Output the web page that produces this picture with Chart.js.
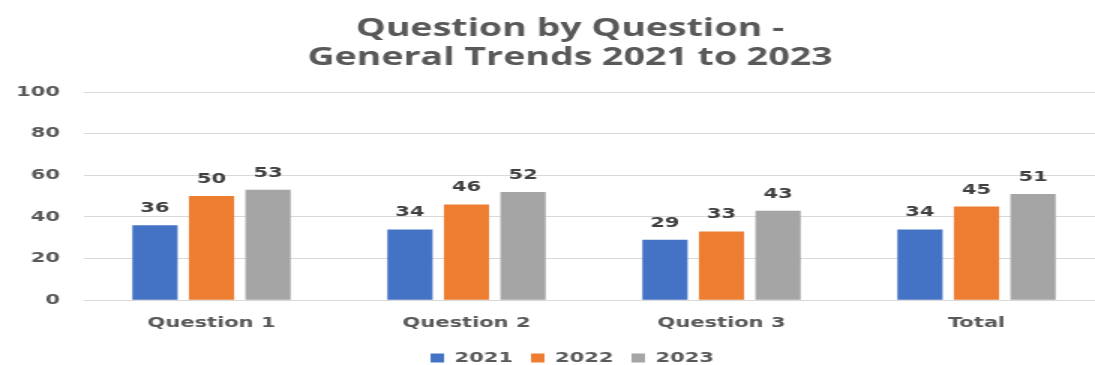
<!DOCTYPE html>
<html>
<head>
<meta charset="utf-8">
<script src="https://cdn.jsdelivr.net/npm/chart.js@4"></script>
<style>
  html, body { margin: 0; padding: 0; background: #fff; overflow: hidden; }
  #wrap { width: 1095px; height: 365px; overflow: hidden; }
  /* the original picture is stretched sideways, so draw narrow and widen */
  #chart { transform: scaleX(1.5); transform-origin: 0 0; }
</style>
</head>
<body>
<div id="wrap"><canvas id="chart" width="740" height="365"></canvas></div>
<script>
const categories = ['Question 1', 'Question 2', 'Question 3', 'Total'];
const years = ['2021', '2022', '2023'];
const values2021 = [36, 34, 29, 34];
const values2022 = [50, 46, 33, 45];
const values2023 = [53, 52, 43, 51];
const yTicks = [0, 20, 40, 60, 80, 100];
const colors = ['#4472C4', '#ED7D31', '#A5A5A5'];

const labelFont = { family: 'DejaVu Sans', size: 14, weight: 'bold' };

// value above each bar
const barLabels = {
  id: 'barLabels',
  afterDatasetsDraw(chart) {
    const ctx = chart.ctx;
    ctx.save();
    ctx.font = 'bold 14px "DejaVu Sans"';
    ctx.fillStyle = '#404040';
    ctx.textAlign = 'center';
    ctx.textBaseline = 'alphabetic';
    chart.data.datasets.forEach((ds, i) => {
      chart.getDatasetMeta(i).data.forEach((bar, j) => {
        ctx.fillText(ds.data[j], bar.x, bar.y - 13);
      });
    });
    ctx.restore();
  }
};

// legend sits a little right of the canvas centre in the original
const legendShift = {
  id: 'legendShift',
  afterLayout(chart) {
    chart.legend.left += 8;
    chart.legend.right += 8;
  }
};

new Chart(document.getElementById('chart'), {
  type: 'bar',
  data: {
    labels: categories,
    datasets: [
      { label: years[0], data: values2021, backgroundColor: colors[0] },
      { label: years[1], data: values2022, backgroundColor: colors[1] },
      { label: years[2], data: values2023, backgroundColor: colors[2] }
    ]
  },
  options: {
    responsive: false,
    animation: false,
    // the original is cropped on the right, so the canvas runs past the edge
    layout: { padding: { left: 11, right: 4, top: 0, bottom: -10 } },
    datasets: { bar: { categoryPercentage: 0.665, barPercentage: 0.8 } },
    plugins: {
      title: {
        display: true,
        // leading spaces nudge the centred title right, like the original
        text: ['  Question by Question -', '  General Trends 2021 to 2023'],
        color: '#595959',
        font: { family: 'Open Sans', size: 25, weight: 'bold', lineHeight: 1.16 },
        padding: { top: 14, bottom: 20 }
      },
      legend: {
        position: 'bottom',
        labels: {
          color: '#595959',
          font: labelFont,
          boxWidth: 9,
          boxHeight: 9,
          padding: 12
        }
      },
      tooltip: { enabled: false }
    },
    scales: {
      x: {
        grid: { display: false },
        border: { color: '#d9d9d9' },
        ticks: { color: '#595959', font: labelFont, padding: 7 },
        afterFit: axis => { axis.paddingLeft = 0; axis.paddingRight = 0; }
      },
      y: {
        min: 0,
        max: 100,
        afterBuildTicks: axis => { axis.ticks = yTicks.map(v => ({ value: v })); },
        afterFit: axis => { axis.width = 45; },
        grid: { color: '#d9d9d9', drawTicks: false },
        border: { display: false },
        ticks: { color: '#595959', font: labelFont, padding: 16 }
      }
    }
  },
  plugins: [barLabels, legendShift]
});
</script>
</body>
</html>
